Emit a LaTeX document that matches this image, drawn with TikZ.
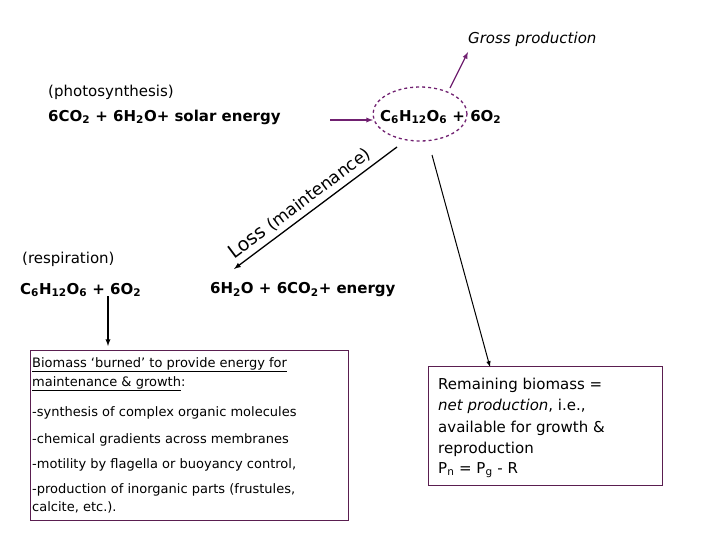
\documentclass[tikz,border=0pt]{standalone}
\usepackage{fontspec}
\setmainfont{DejaVu Sans}
\usetikzlibrary{shapes.geometric}
\definecolor{plum}{RGB}{112,32,112}
\definecolor{boxc}{RGB}{90,30,80}
\begin{document}
\begin{tikzpicture}[x=1pt,y=-1pt,
  big/.style={font=\fontsize{15}{18}\selectfont\bfseries, anchor=west, inner sep=0pt},
  lbl/.style={font=\fontsize{15}{18}\selectfont, anchor=west, inner sep=0pt},
  small/.style={font=\fontsize{13}{15}\selectfont, anchor=west, inner sep=0pt},
  med/.style={font=\fontsize{15}{17}\selectfont, anchor=west, inner sep=0pt},
  boxs/.style={draw=boxc, line width=0.8pt},
  arr/.style={-latex, line width=1.3pt}]
\useasboundingbox (0,0) rectangle (720,540);
\node[lbl, font=\fontsize{15}{18}\selectfont\itshape] (gp) at (468,39) {Gross production};
\node[lbl] (ph) at (48,92) {(photosynthesis)};
\node[big] (eq1) at (48,117) {6CO$_\mathbf{2}$ + 6H$_\mathbf{2}$O+ solar energy};
\node[big] (eq2) at (380,117) {C$_\mathbf{6}$H$_\mathbf{12}$O$_\mathbf{6}$ + 6O$_\mathbf{2}$};
\node[draw=plum, dashed, line width=1.3pt, ellipse, minimum width=94pt, minimum height=54pt, inner sep=0pt] (ell) at (420,114) {};
\node[lbl] (rs) at (22,259) {(respiration)};
\node[big] (eq3) at (20,290) {C$_\mathbf{6}$H$_\mathbf{12}$O$_\mathbf{6}$ + 6O$_\mathbf{2}$};
\node[big] (eq4) at (210,290) {6H$_\mathbf{2}$O + 6CO$_\mathbf{2}$+ energy};
\coordinate (s1) at (330,120); \coordinate (s2) at (373,120);
\draw[arr, plum] (s1) -- (s2);
\coordinate (g1) at (450,88); \coordinate (g2) at (468,52);
\draw[arr, plum] (g1) -- (g2);
\coordinate (l1) at (397,147); \coordinate (l2) at (234,269);
\draw[arr] (l1) -- node[sloped, above=1pt, pos=0.55, font=\fontsize{19}{20}\selectfont] (lt) {Loss {\fontsize{17}{18}\selectfont(maintenance)}} (l2);
\coordinate (n1) at (432,155); \coordinate (n2) at (490,367);
\draw[-latex, line width=1pt] (n1) -- (n2);
\coordinate (d1) at (108,296); \coordinate (d2) at (108,346);
\draw[arr] (d1) -- (d2);
\draw[boxs] (30,350) rectangle (348,520);
\node[small] (b1) at (32,365) {\underline{Biomass ‘burned’ to provide energy for}};
\node[small] (b2) at (32,384) {\underline{maintenance \& growth}:};
\node[small] (b3) at (32,413) {-synthesis of complex organic molecules};
\node[small] (b4) at (32,440) {-chemical gradients across membranes};
\node[small] (b5) at (32,465) {-motility by flagella or buoyancy control,};
\node[small] (b6) at (32,490) {-production of inorganic parts (frustules,};
\node[small] (b7) at (32,507) {calcite, etc.).};
\draw[boxs] (428,366) rectangle (662,485);
\node[med] (r1) at (438,385) {Remaining biomass =};
\node[med] (r2) at (438,406) {\textit{net production}, i.e.,};
\node[med] (r3) at (438,428) {available for growth \&};
\node[med] (r4) at (438,449) {reproduction};
\node[med] (r5) at (438,470) {P$_\mathrm{n}$ = P$_\mathrm{g}$ - R};
\end{tikzpicture}
\end{document}
